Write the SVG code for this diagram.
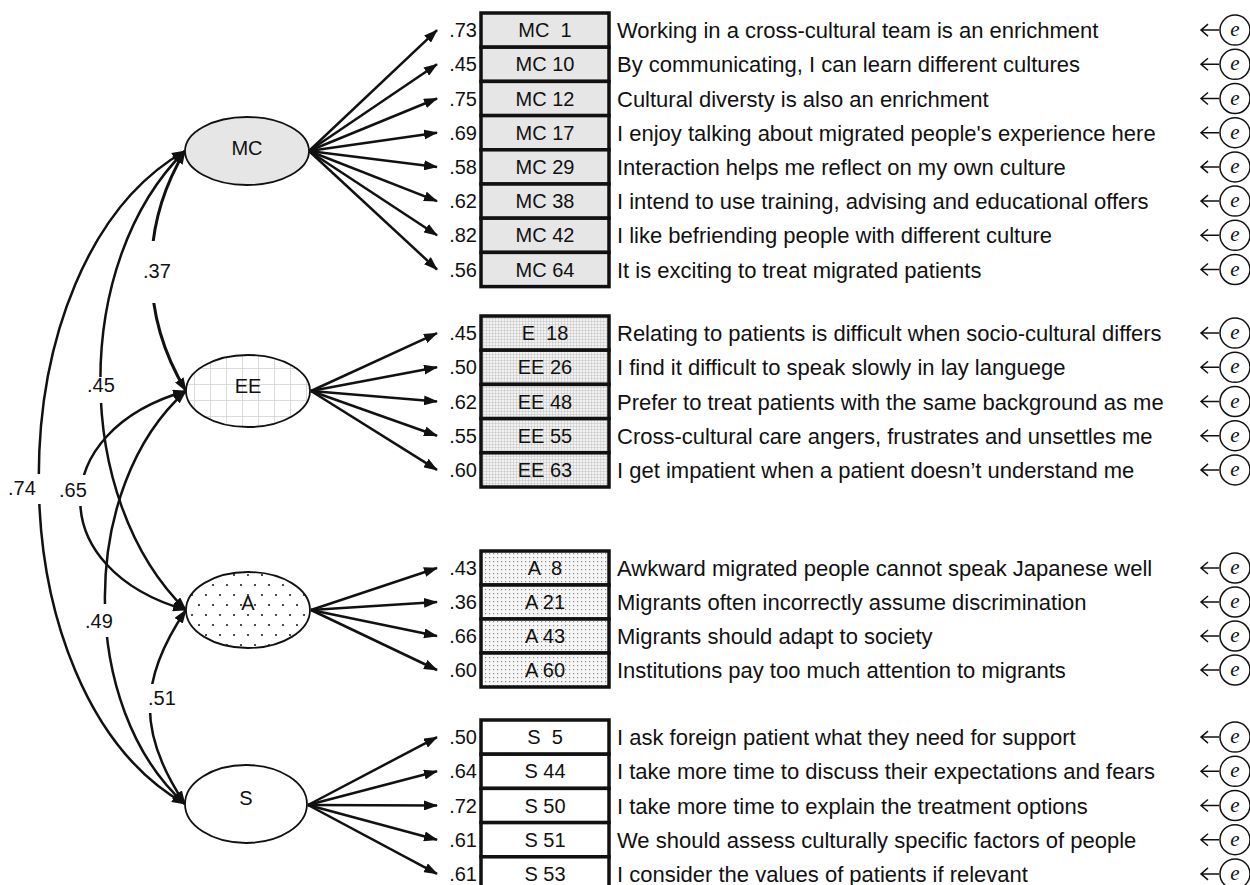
<svg xmlns="http://www.w3.org/2000/svg" width="1250" height="885" viewBox="0 0 1250 885">
<defs>
<style>
text{font-family:"Liberation Sans",Arial,sans-serif;fill:#111}
.item{font-size:22px}
.lab{font-size:20px;text-anchor:middle;white-space:pre}
.ld{font-size:20px;text-anchor:end}
.cv{font-size:20px}
.lv{font-size:20px;text-anchor:middle}
.bx{stroke:#111;stroke-width:3.5}
.mcf{fill:#e6e6e6}
.eef{fill:url(#gridFine)}
.af{fill:url(#dotsFine)}
.sf{fill:#fff}
.lat{stroke:#111;stroke-width:1.8}
.e{fill:#fff;stroke:#111;stroke-width:1.5}
.et{font-family:"Liberation Serif","Times New Roman",serif;font-style:italic;font-size:21px;text-anchor:middle}
.ea{fill:none;stroke:#111;stroke-width:1.5}
.ln{fill:none;stroke:#111;stroke-width:2.5;marker-end:url(#ah)}
.cov{fill:none;stroke:#111;stroke-width:2.5;marker-start:url(#ah);marker-end:url(#ah)}
.wb{fill:#fff}
</style>
<marker id="ah" viewBox="0 0 14 10" refX="13" refY="5" markerWidth="14" markerHeight="10" markerUnits="userSpaceOnUse" orient="auto-start-reverse"><path d="M0,0 L14,5 L0,10 z" fill="#111"/></marker>
<pattern id="gridBig" width="16" height="16" x="2" y="0" patternUnits="userSpaceOnUse"><rect width="16" height="16" fill="#fff"/><path d="M0,0 V16 M0,0 H16" stroke="#d0d0d0" stroke-width="1.6"/></pattern>
<pattern id="gridFine" width="3" height="3" patternUnits="userSpaceOnUse"><rect width="3" height="3" fill="#f2f2f2"/><path d="M0,0 V3 M0,0 H3" stroke="#b8b8b8" stroke-width="0.8"/></pattern>
<pattern id="dotsBig" width="14" height="20" patternUnits="userSpaceOnUse"><rect width="14" height="20" fill="#fff"/><circle cx="3" cy="5" r="1.1" fill="#222"/><circle cx="10" cy="15" r="1.1" fill="#222"/></pattern>
<pattern id="dotsFine" width="4" height="4" patternUnits="userSpaceOnUse"><rect width="4" height="4" fill="#f6f6f6"/><rect x="1" y="1" width="1.2" height="1.2" fill="#888"/></pattern>
</defs>
<rect width="1250" height="885" fill="#fff"/>

<g id="connectors">
<!-- loadings MC -->
<path class="ln" d="M309,151 L437,30.1"/>
<path class="ln" d="M309,151 L437,64.3"/>
<path class="ln" d="M309,151 L437,98.5"/>
<path class="ln" d="M309,151 L437,132.7"/>
<path class="ln" d="M309,151 L437,166.9"/>
<path class="ln" d="M309,151 L437,201.1"/>
<path class="ln" d="M309,151 L437,235.3"/>
<path class="ln" d="M309,151 L437,269.5"/>
<!-- loadings EE -->
<path class="ln" d="M311,391 L437,333.1"/>
<path class="ln" d="M311,391 L437,367.3"/>
<path class="ln" d="M311,391 L437,401.5"/>
<path class="ln" d="M311,391 L437,435.7"/>
<path class="ln" d="M311,391 L437,469.9"/>
<!-- loadings A -->
<path class="ln" d="M311,610 L437,568"/>
<path class="ln" d="M311,610 L437,602"/>
<path class="ln" d="M311,610 L437,636"/>
<path class="ln" d="M311,610 L437,670"/>
<!-- loadings S -->
<path class="ln" d="M308,805 L437,737.1"/>
<path class="ln" d="M308,805 L437,771.3"/>
<path class="ln" d="M308,805 L437,805.5"/>
<path class="ln" d="M308,805 L437,839.7"/>
<path class="ln" d="M308,805 L437,873.9"/>
<!-- covariances -->
<path class="cov" d="M185,151 C-10,262 -10,693 185,804"/>
<path class="cov" d="M185,151 C72,262 72,499 186,610"/>
<path class="cov" style="stroke-width:3" d="M185,151 C140,226 140,315 186,391"/>
<path class="cov" d="M186,391 C45,431 45,570 186,610"/>
<path class="cov" d="M186,391 C78,487 78,708 185,804"/>
<path class="cov" d="M186,610 C138,680 138,734 185,804"/>
<rect class="wb" x="4" y="474" width="40" height="30"/>
<rect class="wb" x="56" y="475" width="34" height="31"/>
<rect class="wb" x="84" y="377" width="32" height="26"/>
<rect class="wb" x="140" y="241" width="32" height="62"/>
<rect class="wb" x="82" y="604" width="32" height="33"/>
<rect class="wb" x="145" y="684" width="32" height="29"/>
<text class="cv" x="8" y="495">.74</text>
<text class="cv" x="59" y="497">.65</text>
<text class="cv" x="87" y="392">.45</text>
<text class="cv" x="143" y="278">.37</text>
<text class="cv" x="85" y="628">.49</text>
<text class="cv" x="148" y="705">.51</text>
<!-- loading values -->
<text class="ld" x="477" y="37.1">.73</text>
<text class="ld" x="477" y="71.3">.45</text>
<text class="ld" x="477" y="105.5">.75</text>
<text class="ld" x="477" y="139.7">.69</text>
<text class="ld" x="477" y="173.9">.58</text>
<text class="ld" x="477" y="208.1">.62</text>
<text class="ld" x="477" y="242.3">.82</text>
<text class="ld" x="477" y="276.5">.56</text>
<text class="ld" x="477" y="340.1">.45</text>
<text class="ld" x="477" y="374.3">.50</text>
<text class="ld" x="477" y="408.5">.62</text>
<text class="ld" x="477" y="442.7">.55</text>
<text class="ld" x="477" y="476.9">.60</text>
<text class="ld" x="477" y="575">.43</text>
<text class="ld" x="477" y="609">.36</text>
<text class="ld" x="477" y="643">.66</text>
<text class="ld" x="477" y="677">.60</text>
<text class="ld" x="477" y="744.1">.50</text>
<text class="ld" x="477" y="778.3">.64</text>
<text class="ld" x="477" y="812.5">.72</text>
<text class="ld" x="477" y="846.7">.61</text>
<text class="ld" x="477" y="880.9">.61</text>
<!-- error arrows -->
<path class="ea" d="M1219,30.1 H1201 M1208,24.1 L1201,30.1 L1208,36.1"/>
<path class="ea" d="M1219,64.3 H1201 M1208,58.3 L1201,64.3 L1208,70.3"/>
<path class="ea" d="M1219,98.5 H1201 M1208,92.5 L1201,98.5 L1208,104.5"/>
<path class="ea" d="M1219,132.7 H1201 M1208,126.7 L1201,132.7 L1208,138.7"/>
<path class="ea" d="M1219,166.9 H1201 M1208,160.9 L1201,166.9 L1208,172.9"/>
<path class="ea" d="M1219,201.1 H1201 M1208,195.1 L1201,201.1 L1208,207.1"/>
<path class="ea" d="M1219,235.3 H1201 M1208,229.3 L1201,235.3 L1208,241.3"/>
<path class="ea" d="M1219,269.5 H1201 M1208,263.5 L1201,269.5 L1208,275.5"/>
<path class="ea" d="M1219,333.1 H1201 M1208,327.1 L1201,333.1 L1208,339.1"/>
<path class="ea" d="M1219,367.3 H1201 M1208,361.3 L1201,367.3 L1208,373.3"/>
<path class="ea" d="M1219,401.5 H1201 M1208,395.5 L1201,401.5 L1208,407.5"/>
<path class="ea" d="M1219,435.7 H1201 M1208,429.7 L1201,435.7 L1208,441.7"/>
<path class="ea" d="M1219,469.9 H1201 M1208,463.9 L1201,469.9 L1208,475.9"/>
<path class="ea" d="M1219,568 H1201 M1208,562 L1201,568 L1208,574"/>
<path class="ea" d="M1219,602 H1201 M1208,596 L1201,602 L1208,608"/>
<path class="ea" d="M1219,636 H1201 M1208,630 L1201,636 L1208,642"/>
<path class="ea" d="M1219,670 H1201 M1208,664 L1201,670 L1208,676"/>
<path class="ea" d="M1219,737.1 H1201 M1208,731.1 L1201,737.1 L1208,743.1"/>
<path class="ea" d="M1219,771.3 H1201 M1208,765.3 L1201,771.3 L1208,777.3"/>
<path class="ea" d="M1219,805.5 H1201 M1208,799.5 L1201,805.5 L1208,811.5"/>
<path class="ea" d="M1219,839.7 H1201 M1208,833.7 L1201,839.7 L1208,845.7"/>
<path class="ea" d="M1219,873.9 H1201 M1208,867.9 L1201,873.9 L1208,879.9"/>
</g>

<!-- latent variables -->
<g id="MC"><ellipse class="lat" cx="247" cy="151" rx="62" ry="34" fill="#e6e6e6"/><text class="lv" x="247" y="155">MC</text></g>
<g id="EE"><ellipse class="lat" cx="248" cy="391" rx="62" ry="36" fill="url(#gridBig)"/><text class="lv" x="248" y="393">EE</text></g>
<g id="A"><ellipse class="lat" cx="248" cy="610" rx="62" ry="38" fill="url(#dotsBig)"/><text class="lv" x="248" y="610">A</text></g>
<g id="S"><ellipse class="lat" cx="246" cy="804" rx="61" ry="39" fill="#fff"/><text class="lv" x="246" y="805">S</text></g>

<!-- MC items -->
<g id="mc1"><rect class="bx mcf" x="481" y="13" width="128" height="34.2"/><text class="lab" x="545" y="37.1">MC  1</text><text class="item" x="617" y="38.1">Working in a cross-cultural team is an enrichment</text><circle class="e" cx="1235" cy="30.1" r="15"/><text class="et" x="1235" y="36.1">e</text></g>
<g id="mc10"><rect class="bx mcf" x="481" y="47.2" width="128" height="34.2"/><text class="lab" x="545" y="71.3">MC 10</text><text class="item" x="617" y="72.3">By communicating, I can learn different cultures</text><circle class="e" cx="1235" cy="64.3" r="15"/><text class="et" x="1235" y="70.3">e</text></g>
<g id="mc12"><rect class="bx mcf" x="481" y="81.4" width="128" height="34.2"/><text class="lab" x="545" y="105.5">MC 12</text><text class="item" x="617" y="106.5">Cultural diversty is also an enrichment</text><circle class="e" cx="1235" cy="98.5" r="15"/><text class="et" x="1235" y="104.5">e</text></g>
<g id="mc17"><rect class="bx mcf" x="481" y="115.6" width="128" height="34.2"/><text class="lab" x="545" y="139.7">MC 17</text><text class="item" x="617" y="140.7">I enjoy talking about migrated people's experience here</text><circle class="e" cx="1235" cy="132.7" r="15"/><text class="et" x="1235" y="138.7">e</text></g>
<g id="mc29"><rect class="bx mcf" x="481" y="149.8" width="128" height="34.2"/><text class="lab" x="545" y="173.9">MC 29</text><text class="item" x="617" y="174.9">Interaction helps me reflect on my own culture</text><circle class="e" cx="1235" cy="166.9" r="15"/><text class="et" x="1235" y="172.9">e</text></g>
<g id="mc38"><rect class="bx mcf" x="481" y="184" width="128" height="34.2"/><text class="lab" x="545" y="208.1">MC 38</text><text class="item" x="617" y="209.1">I intend to use training, advising and educational offers</text><circle class="e" cx="1235" cy="201.1" r="15"/><text class="et" x="1235" y="207.1">e</text></g>
<g id="mc42"><rect class="bx mcf" x="481" y="218.2" width="128" height="34.2"/><text class="lab" x="545" y="242.3">MC 42</text><text class="item" x="617" y="243.3">I like befriending people with different culture</text><circle class="e" cx="1235" cy="235.3" r="15"/><text class="et" x="1235" y="241.3">e</text></g>
<g id="mc64"><rect class="bx mcf" x="481" y="252.4" width="128" height="34.2"/><text class="lab" x="545" y="276.5">MC 64</text><text class="item" x="617" y="277.5">It is exciting to treat migrated patients</text><circle class="e" cx="1235" cy="269.5" r="15"/><text class="et" x="1235" y="275.5">e</text></g>

<!-- EE items -->
<g id="ee18"><rect class="bx eef" x="481" y="316" width="128" height="34.2"/><text class="lab" x="545" y="340.1">E  18</text><text class="item" x="617" y="341.1">Relating to patients is difficult when socio-cultural differs</text><circle class="e" cx="1235" cy="333.1" r="15"/><text class="et" x="1235" y="339.1">e</text></g>
<g id="ee26"><rect class="bx eef" x="481" y="350.2" width="128" height="34.2"/><text class="lab" x="545" y="374.3">EE 26</text><text class="item" x="617" y="375.3">I find it difficult to speak slowly in lay languege</text><circle class="e" cx="1235" cy="367.3" r="15"/><text class="et" x="1235" y="373.3">e</text></g>
<g id="ee48"><rect class="bx eef" x="481" y="384.4" width="128" height="34.2"/><text class="lab" x="545" y="408.5">EE 48</text><text class="item" x="617" y="409.5">Prefer to treat patients with the same background as me</text><circle class="e" cx="1235" cy="401.5" r="15"/><text class="et" x="1235" y="407.5">e</text></g>
<g id="ee55"><rect class="bx eef" x="481" y="418.6" width="128" height="34.2"/><text class="lab" x="545" y="442.7">EE 55</text><text class="item" x="617" y="443.7">Cross-cultural care angers, frustrates and unsettles me</text><circle class="e" cx="1235" cy="435.7" r="15"/><text class="et" x="1235" y="441.7">e</text></g>
<g id="ee63"><rect class="bx eef" x="481" y="452.8" width="128" height="34.2"/><text class="lab" x="545" y="476.9">EE 63</text><text class="item" x="617" y="477.9">I get impatient when a patient doesn’t understand me</text><circle class="e" cx="1235" cy="469.9" r="15"/><text class="et" x="1235" y="475.9">e</text></g>

<!-- A items -->
<g id="a8"><rect class="bx af" x="481" y="551" width="128" height="34"/><text class="lab" x="545" y="575">A  8</text><text class="item" x="617" y="576">Awkward migrated people cannot speak Japanese well</text><circle class="e" cx="1235" cy="568" r="15"/><text class="et" x="1235" y="574">e</text></g>
<g id="a21"><rect class="bx af" x="481" y="585" width="128" height="34"/><text class="lab" x="545" y="609">A 21</text><text class="item" x="617" y="610">Migrants often incorrectly assume discrimination</text><circle class="e" cx="1235" cy="602" r="15"/><text class="et" x="1235" y="608">e</text></g>
<g id="a43"><rect class="bx af" x="481" y="619" width="128" height="34"/><text class="lab" x="545" y="643">A 43</text><text class="item" x="617" y="644">Migrants should adapt to society</text><circle class="e" cx="1235" cy="636" r="15"/><text class="et" x="1235" y="642">e</text></g>
<g id="a60"><rect class="bx af" x="481" y="653" width="128" height="34"/><text class="lab" x="545" y="677">A 60</text><text class="item" x="617" y="678">Institutions pay too much attention to migrants</text><circle class="e" cx="1235" cy="670" r="15"/><text class="et" x="1235" y="676">e</text></g>

<!-- S items -->
<g id="s5"><rect class="bx sf" x="481" y="720" width="128" height="34.2"/><text class="lab" x="545" y="744.1">S  5</text><text class="item" x="617" y="745.1">I ask foreign patient what they need for support</text><circle class="e" cx="1235" cy="737.1" r="15"/><text class="et" x="1235" y="743.1">e</text></g>
<g id="s44"><rect class="bx sf" x="481" y="754.2" width="128" height="34.2"/><text class="lab" x="545" y="778.3">S 44</text><text class="item" x="617" y="779.3">I take more time to discuss their expectations and fears</text><circle class="e" cx="1235" cy="771.3" r="15"/><text class="et" x="1235" y="777.3">e</text></g>
<g id="s50"><rect class="bx sf" x="481" y="788.4" width="128" height="34.2"/><text class="lab" x="545" y="812.5">S 50</text><text class="item" x="617" y="813.5">I take more time to explain the treatment options</text><circle class="e" cx="1235" cy="805.5" r="15"/><text class="et" x="1235" y="811.5">e</text></g>
<g id="s51"><rect class="bx sf" x="481" y="822.6" width="128" height="34.2"/><text class="lab" x="545" y="846.7">S 51</text><text class="item" x="617" y="847.7">We should assess culturally specific factors of people</text><circle class="e" cx="1235" cy="839.7" r="15"/><text class="et" x="1235" y="845.7">e</text></g>
<g id="s53"><rect class="bx sf" x="481" y="856.8" width="128" height="34.2"/><text class="lab" x="545" y="880.9">S 53</text><text class="item" x="617" y="881.9">I consider the values of patients if relevant</text><circle class="e" cx="1235" cy="873.9" r="15"/><text class="et" x="1235" y="879.9">e</text></g>
</svg>
